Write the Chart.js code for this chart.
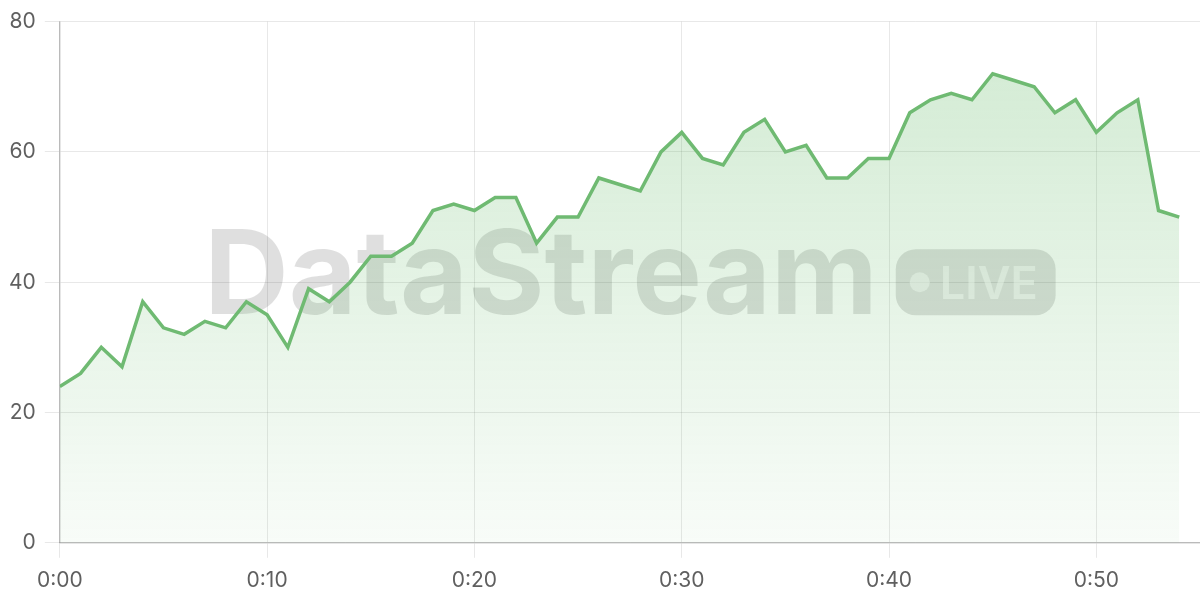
<!DOCTYPE html>
<html>
<head>
<meta charset="utf-8">
<script src="https://cdn.jsdelivr.net/npm/chart.js@4"></script>
<style>
  html, body { margin: 0; padding: 0; background: #fff; }
  #wrap { width: 1200px; height: 600px; }
</style>
</head>
<body>
<div id="wrap"><canvas id="myChart"></canvas></div>
<script>
// values per minute, 0:00 .. 0:54
let values = [24, 26, 30, 27, 37, 33, 32, 34, 33, 37, 35, 30, 39, 37, 40, 44, 44, 46, 51, 52,
  51, 53, 53, 46, 50, 50, 56, 55, 54, 60, 63, 59, 58, 63, 65, 60, 61, 56, 56, 59,
  59, 66, 68, 69, 68, 72, 71, 70, 66, 68, 63, 66, 68, 51, 50];
let tickValues = [0, 10, 20, 30, 40, 50];
let tickLabels = ["0:00", "0:10", "0:20", "0:30", "0:40", "0:50"];
let yTicks = [0, 20, 40, 60, 80];

let points = [];
values.forEach((v, i) => {
  points.push({ x: i, y: v });
});

// big grey "DataStream • LIVE" mark in the middle of the plot
const watermark = {
  id: "watermark",
  beforeDatasetsDraw(chart) {
    const ctx = chart.ctx;
    const a = chart.chartArea;
    const cx = (a.left + a.right) / 2;
    const cy = (a.top + a.bottom) / 2;

    ctx.save();
    ctx.font = "700 117px Inter";
    const txt = "DataStream";
    const tw = ctx.measureText(txt).width;
    ctx.font = "600 45px Inter";
    const lw = ctx.measureText("LIVE").width;
    const pillW = 20 + 22 + 4 + lw + 16;
    const pillH = 66;
    const gap = 18;
    const total = tw + gap + pillW;
    let x = cx - total / 2;

    ctx.fillStyle = "rgba(0,0,0,0.125)";
    ctx.textBaseline = "alphabetic";
    ctx.font = "700 117px Inter";
    ctx.fillText(txt, x, cy + 32);

    // pill
    const px = x + tw + gap;
    const py = cy - pillH / 2;
    ctx.beginPath();
    ctx.roundRect(px, py, pillW, pillH, 20);
    ctx.fill();

    ctx.fillStyle = "rgba(255,255,255,0.55)";
    ctx.beginPath();
    ctx.arc(px + 24, cy, 10, 0, Math.PI * 2);
    ctx.fill();
    ctx.font = "600 45px Inter";
    ctx.fillText("LIVE", px + 44, cy + 17);
    ctx.restore();
  },
};

const ctx = document.getElementById("myChart");

const myChart = new Chart(ctx, {
  type: "line",
  data: {
    datasets: [
      {
        data: points,
        borderColor: "#6fba72",
        borderWidth: 3.5,
        pointRadius: 0,
        tension: 0,
        fill: "origin",
        backgroundColor: (c) => {
          const area = c.chart.chartArea;
          if (!area) return "rgba(76,175,80,0.15)";
          const g = c.chart.ctx.createLinearGradient(0, area.top, 0, area.bottom);
          g.addColorStop(0, "rgba(76,175,80,0.26)");
          g.addColorStop(1, "rgba(76,175,80,0.04)");
          return g;
        },
      },
    ],
  },
  options: {
    responsive: true,
    maintainAspectRatio: false,
    animation: false,
    layout: { padding: { top: 8, right: 0, bottom: -3, left: 0 } },
    plugins: {
      legend: { display: false },
      tooltip: { enabled: false },
    },
    scales: {
      x: {
        type: "linear",
        min: 0,
        max: 55,
        afterBuildTicks: (axis) => {
          axis.ticks = tickValues.map((v) => ({ value: v }));
        },
        ticks: {
          color: "#5f5f5f",
          font: { family: "Inter", size: 21 },
          padding: 10,
          maxRotation: 0,
          callback: (v) => tickLabels[tickValues.indexOf(v)],
        },
        grid: { color: "rgba(0,0,0,0.09)", tickLength: 15 },
        border: { color: "rgba(0,0,0,0.2)", width: 1.5 },
      },
      y: {
        min: 0,
        max: 80,
        afterBuildTicks: (axis) => {
          axis.ticks = yTicks.map((v) => ({ value: v }));
        },
        ticks: {
          color: "#5f5f5f",
          font: { family: "Inter", size: 21 },
          padding: 9,
        },
        grid: { color: "rgba(0,0,0,0.09)", tickLength: 15 },
        border: { color: "rgba(0,0,0,0.2)", width: 1.5 },
      },
    },
  },
  plugins: [watermark],
});
</script>
</body>
</html>
